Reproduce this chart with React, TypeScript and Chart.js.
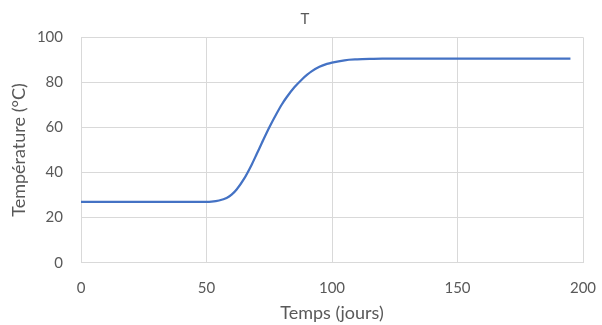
import React, { useEffect, useRef } from "react";
import { Chart, registerables } from "chart.js";

Chart.register(...registerables);

const days: number[] = [0, 10, 20, 30, 40, 50, 52, 55, 58, 60, 62, 65, 68, 70, 72, 75, 78, 80, 82, 85, 88, 90, 92, 95, 98, 100, 105, 110, 115, 120, 130, 140, 150, 160, 170, 180, 190, 195];
const temps: number[] = [27, 27, 27, 27, 27, 27, 27.1, 27.6, 28.7, 30.2, 32.5, 37.3, 43.5, 48.2, 53, 60, 66.3, 70.2, 73.5, 77.8, 81.3, 83.3, 85, 86.9, 88.2, 88.8, 89.8, 90.2, 90.4, 90.5, 90.5, 90.5, 90.5, 90.5, 90.5, 90.5, 90.5, 90.5];
const xTicks: number[] = [0, 50, 100, 150, 200];
const yTicks: number[] = [0, 20, 40, 60, 80, 100];

const chartTitle = "T";
const xTitle = "Temps (jours)";
const yTitle = "Température (°C)";

const FONT = "Lato, 'Open Sans', sans-serif";
const TXT = "#595959";
const GRID = "#d9d9d9";

export default function App() {
  const ref = useRef<HTMLCanvasElement | null>(null);

  useEffect(() => {
    document.body.style.margin = "0";
    const canvas = ref.current;
    if (!canvas) return;
    const chart = new Chart(canvas, {
      type: "line",
      data: {
        datasets: [
          {
            label: chartTitle,
            data: days.map((d, i) => ({ x: d, y: temps[i] })),
            borderColor: "#4472C4",
            backgroundColor: "#4472C4",
            borderWidth: 2.25,
            pointRadius: 0,
            cubicInterpolationMode: "monotone",
            fill: false,
          },
        ],
      },
      options: {
        responsive: false,
        animation: false,
        layout: { padding: { left: 27, right: 19, top: 0, bottom: 0 } },
        plugins: {
          legend: { display: false },
          tooltip: { enabled: false },
          title: {
            display: true,
            text: chartTitle,
            color: TXT,
            font: { family: FONT, size: 15, weight: "normal" },
            padding: { top: 10, bottom: 9.3 },
          },
        },
        scales: {
          x: {
            type: "linear",
            min: 0,
            max: 200,
            afterBuildTicks: (s: any) => {
              s.ticks = xTicks.map((v) => ({ value: v }));
            },
            afterFit: (s: any) => {
              s.height = 62.3;
              s.paddingLeft = 0;
              s.paddingRight = 0;
            },
            grid: { color: GRID, lineWidth: 1, drawTicks: false },
            border: { color: GRID, width: 1 },
            ticks: {
              color: TXT,
              font: { family: FONT, size: 15 },
              padding: 16,
              maxRotation: 0,
            },
            title: {
              display: true,
              text: xTitle,
              color: TXT,
              font: { family: FONT, size: 18 },
              padding: { top: 0, bottom: 1.5 },
            },
          },
          y: {
            type: "linear",
            min: 0,
            max: 100,
            afterBuildTicks: (s: any) => {
              s.ticks = yTicks.map((v) => ({ value: v }));
            },
            afterFit: (s: any) => {
              s.width = 54;
              s.paddingTop = 0;
              s.paddingBottom = 0;
            },
            grid: { color: GRID, lineWidth: 1, drawTicks: false },
            border: { color: GRID, width: 1 },
            ticks: {
              color: TXT,
              font: { family: FONT, size: 15 },
              padding: 18,
            },
            title: {
              display: true,
              text: yTitle,
              color: TXT,
              font: { family: FONT, size: 18 },
              padding: { top: -18.8, bottom: 0 },
            },
          },
        },
      },
    } as any);
    return () => chart.destroy();
  }, []);

  return (
    <div style={{ width: 602, height: 325 }}>
      <canvas ref={ref} width={602} height={325} style={{ width: 602, height: 325, display: "block" }} />
    </div>
  );
}
